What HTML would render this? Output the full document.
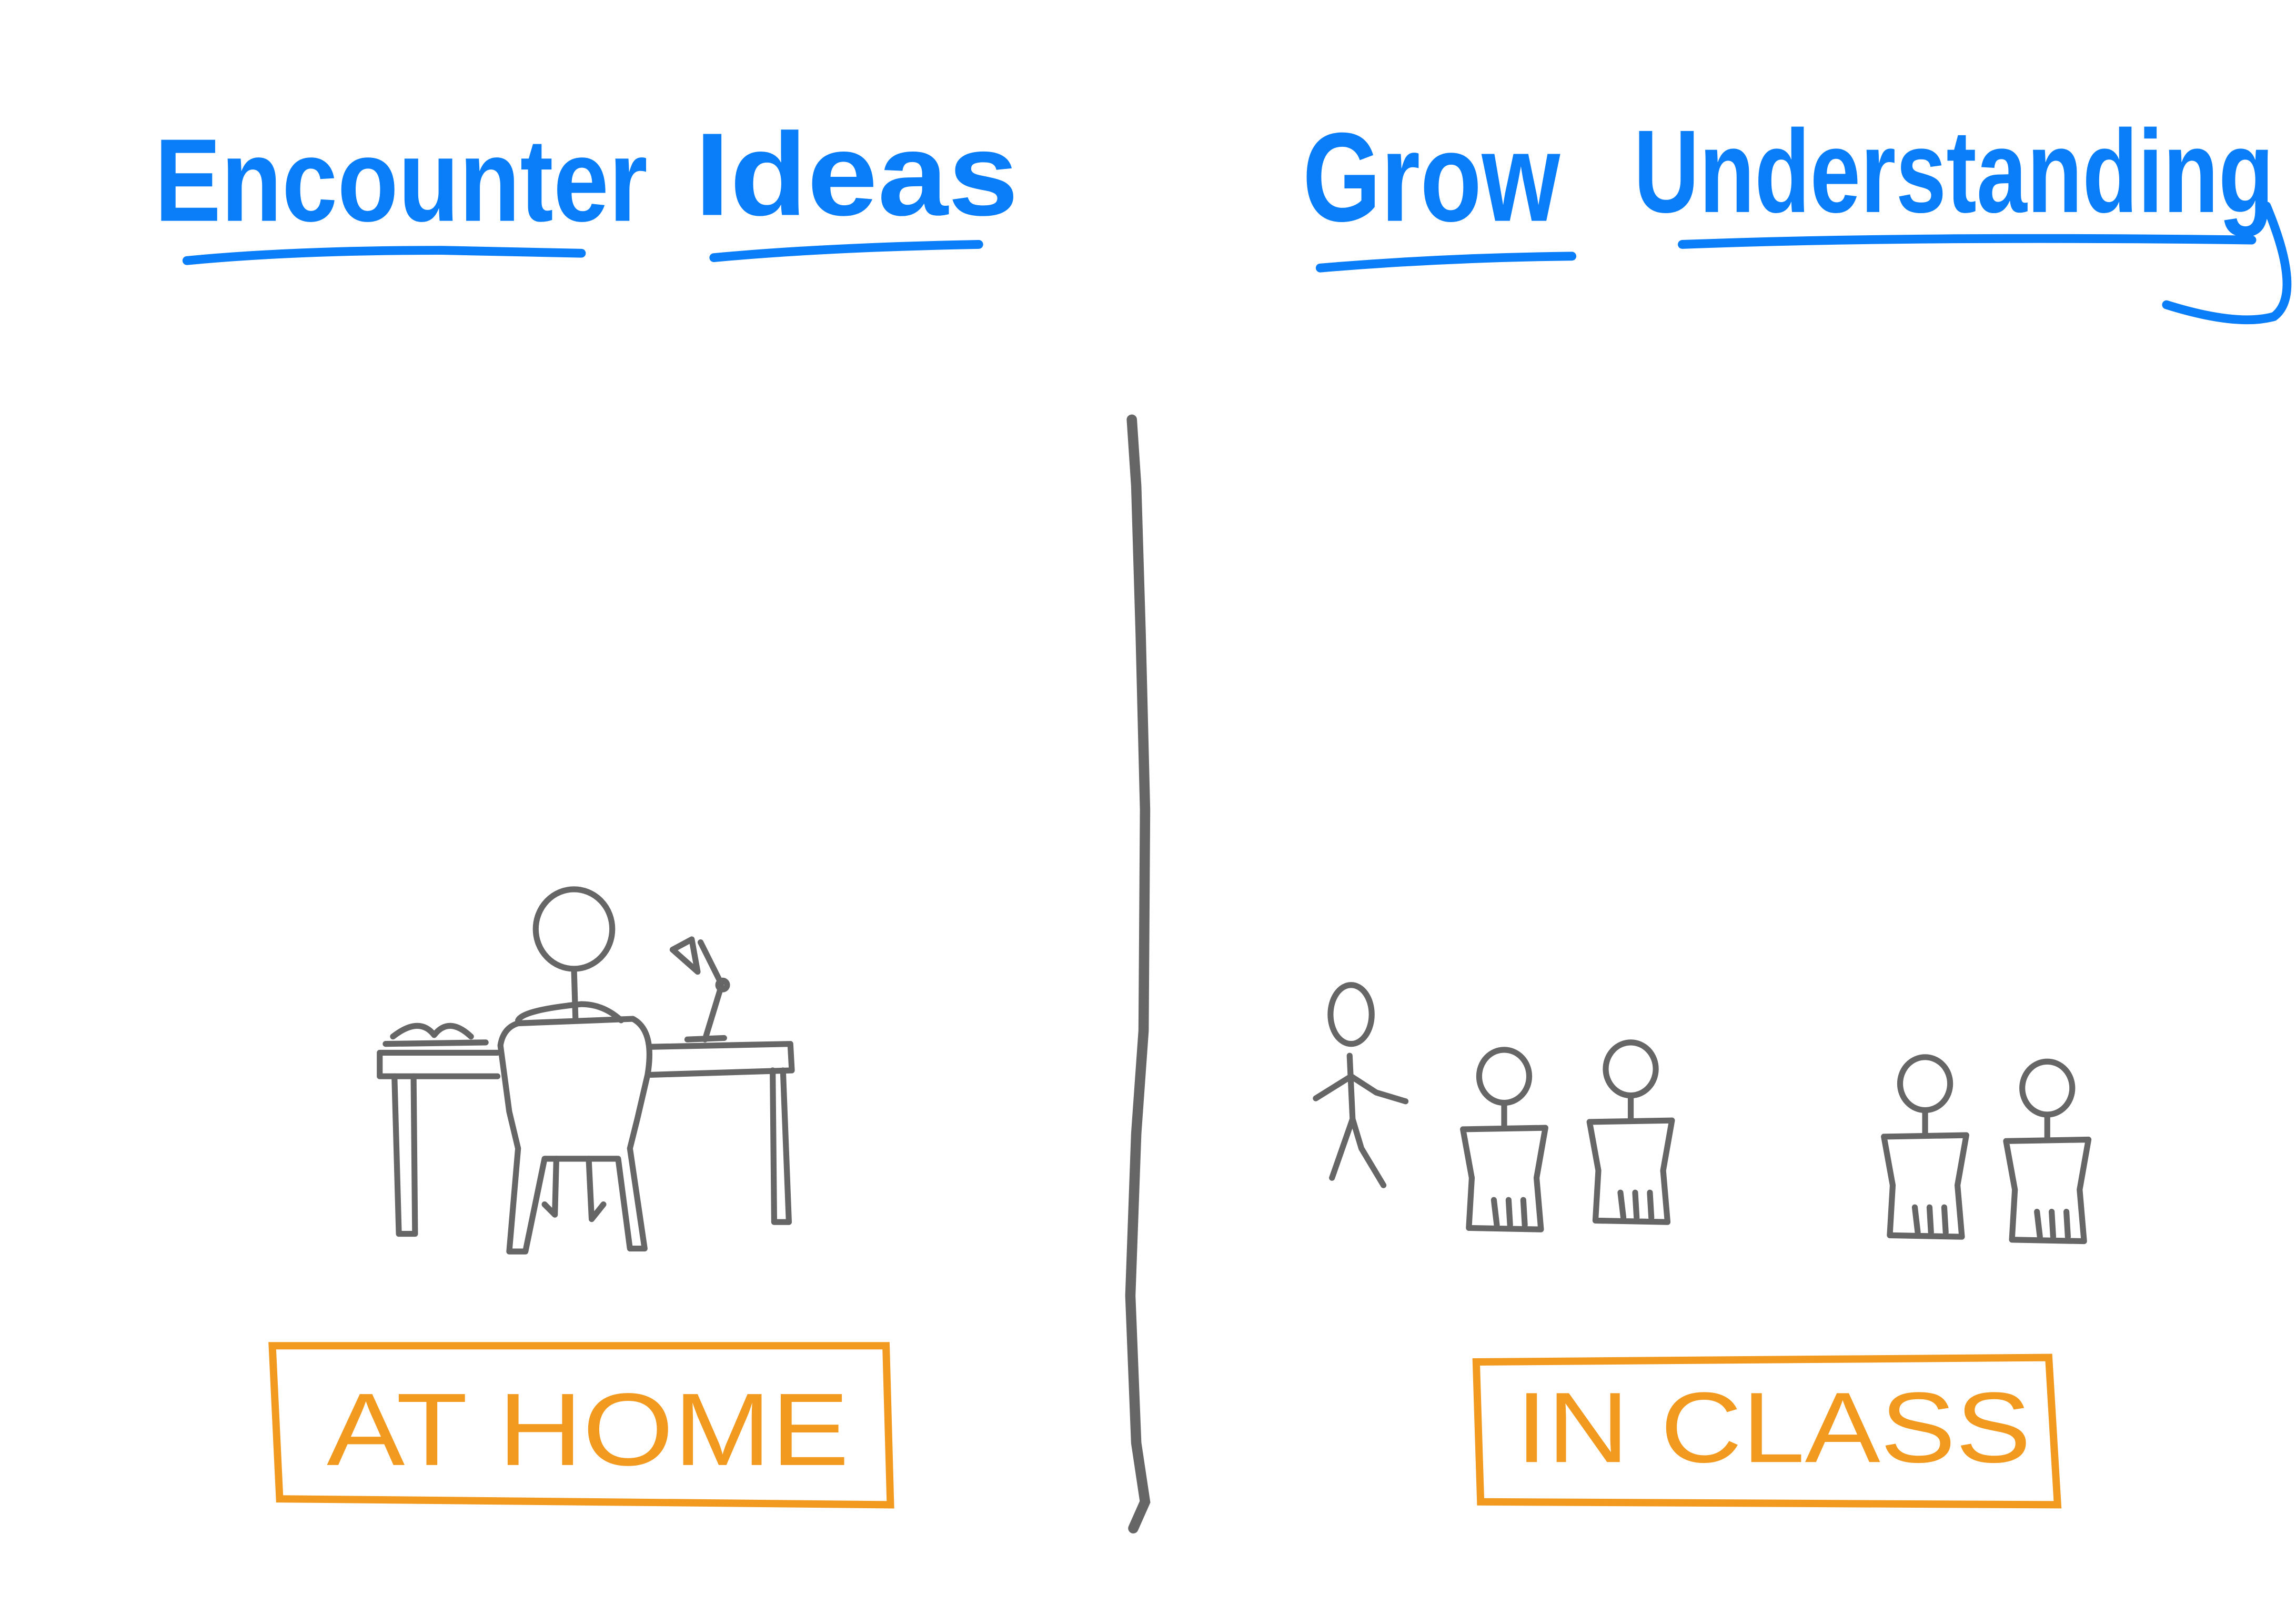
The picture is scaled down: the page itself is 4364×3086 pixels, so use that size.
<!DOCTYPE html>
<html><head><style>html,body{margin:0;padding:0;background:#fff}svg{display:block}</style></head>
<body>
<svg width="4364" height="3086" viewBox="0 0 1560 1103" preserveAspectRatio="none" xmlns="http://www.w3.org/2000/svg">
<g font-family="Liberation Sans, sans-serif" fill="#0a7df8" font-weight="bold">
<text x="105" y="150" font-size="80" textLength="335" lengthAdjust="spacingAndGlyphs">Encounter</text>
<text x="472" y="146" font-size="80" textLength="220" lengthAdjust="spacingAndGlyphs">Ideas</text>
<text x="885" y="150" font-size="86" textLength="175" lengthAdjust="spacingAndGlyphs">Grow</text>
<text x="1110" y="144" font-size="80" textLength="435" lengthAdjust="spacingAndGlyphs">Understanding</text>
</g>
<g stroke="#0a7df8" stroke-width="6" fill="none" stroke-linecap="round">
<path d="M127 177 Q200 170 300 170 L395 172"/>
<path d="M485 175 Q560 168 665 166"/>
<path d="M897 182 Q980 175 1068 174"/>
<path d="M1143 166 Q1300 160 1530 163"/>
<path d="M1540 140 Q1565 200 1545 215 Q1520 222 1472 207"/>
</g>
<path d="M769 285 L772 330 L775 430 L778 550 L777 700 L772 770 L768 880 L772 980 L778 1020 L770 1038" stroke="#666" stroke-width="7" fill="none" stroke-linecap="round"/>
<g stroke="#f29a1f" stroke-width="5" fill="none">
<path d="M185 914 L602 914 L605 1022 L190 1018 Z"/>
<path d="M1003 925 L1392 922 L1398 1022 L1006 1020 Z"/>
</g>
<g font-family="Liberation Sans, sans-serif" fill="#f29a1f">
<text x="222" y="995" font-size="70" textLength="355" lengthAdjust="spacingAndGlyphs">AT HOME</text>
<text x="1030" y="993" font-size="68" textLength="350" lengthAdjust="spacingAndGlyphs">IN CLASS</text>
</g>
<g stroke="#666" stroke-width="4" fill="none" stroke-linecap="round" stroke-linejoin="round">
<path d="M262 709 L330 708"/><path d="M267 704 Q285 690 295 703 Q305 690 320 704"/>
<path d="M258 715 L338 715 M258 715 L258 731 L338 731"/>
<path d="M442 711 L537 709 L538 727 L442 730"/>
<path d="M268 731 L271 838 L282 838 L281 731"/>
<path d="M525 727 L526 830 L536 830 L532 727"/>
<ellipse cx="390" cy="631" rx="26" ry="27"/>
<path d="M390 658 L391 692"/>
<path d="M352 693 Q355 686 395 682 Q410 682 422 693"/>
<path d="M352 695 L430 692 Q445 700 440 730 L433 760 L428 780 L438 848 L428 848 L420 787 L370 787 L357 850 L346 850 L352 780 L346 755 L340 710 Q342 698 352 695 Z"/>
<path d="M378 787 L377 825 L370 818 M400 787 L402 828 L410 818"/>
<path d="M457 645 L470 638 L474 660 Z M476 640 L490 668 M490 670 L479 706 M467 706 L492 705"/>
<circle cx="491" cy="669" r="3"/>
<ellipse cx="918" cy="689" rx="14" ry="20"/>
<path d="M917 717 L919 760 L905 800 M919 760 L925 780 L940 805 M894 746 L918 731 L935 742 L955 748"/>
<g id="s"><ellipse cx="1022" cy="731" rx="17" ry="18"/><path d="M1022 749 L1022 765 M994 767 L1050 766 L1044 800 L1047 835 L998 834 L1000 800 Z M1015 815 L1017 832 M1025 815 L1026 832 M1035 815 L1036 832"/></g>
<use href="#s" transform="translate(86 -5)"/>
<use href="#s" transform="translate(286 5)"/>
<use href="#s" transform="translate(369 8)"/>
</g>
</svg>
</body></html>
